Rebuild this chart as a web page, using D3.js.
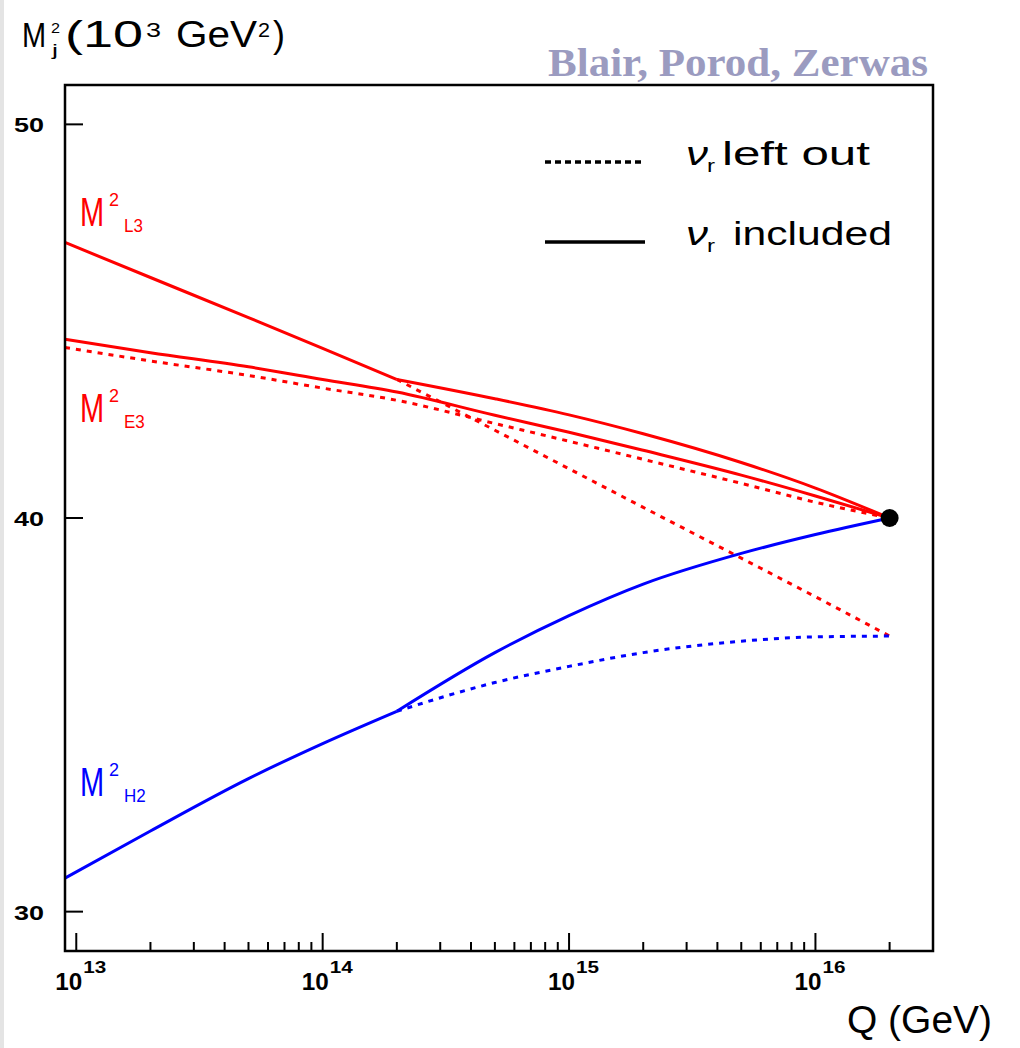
<!DOCTYPE html>
<html>
<head>
<meta charset="utf-8">
<script src="https://cdn.jsdelivr.net/npm/d3@7"></script>
<style>
  html, body { margin: 0; padding: 0; background: #fff; }
  svg { display: block; }
</style>
</head>
<body>
<script>
// ---------------- data ----------------
const Qall  = [9e12, 2e13, 5e13, 1e14, 2e14, 5e14, 1e15, 2e15, 5e15, 1e16, 2e16];
const Qlow  = [9e12, 2e13, 5e13, 1e14, 2e14];
const Qhigh = [2e14, 5e14, 1e15, 2e15, 5e15, 1e16, 2e16];

// M^2_L3 (10^3 GeV^2)
const L3_low      = [47.0, 46.11, 45.09, 44.31, 43.52];
const L3_included = [43.52, 43.03, 42.62, 42.14, 41.41, 40.76, 40.0];
const L3_leftout  = [43.52, 42.23, 41.25, 40.27, 38.98, 38.0, 37.0];
// M^2_E3
const E3_included = [44.54, 44.20, 43.84, 43.52, 43.20, 42.61, 42.18, 41.72, 41.09, 40.56, 40.0];
const E3_leftout  = [44.33, 43.99, 43.62, 43.30, 42.99, 42.40, 41.95, 41.49, 40.88, 40.40, 40.0];
// M^2_H2
const H2_low      = [30.85, 32.05, 33.38, 34.27, 35.09];
const H2_included = [35.09, 36.58, 37.52, 38.32, 39.10, 39.58, 40.0];
const H2_leftout  = [35.09, 35.82, 36.23, 36.58, 36.87, 36.98, 37.0];

const gutPoint = [2e16, 40.0];

const xTickExps = [13, 14, 15, 16];
const yTicks = [30, 40, 50];
const legendLabels = ["left out", "included"];
const curveLabels = [
  { sub: "L3", at: [9e12, 47.42] },
  { sub: "E3", at: [9e12, 42.44] },
  { sub: "H2", at: [9e12, 32.94] }
];

// ---------------- layout ----------------
const W = 1020, H = 1048;
const L = 65, R = 933, T = 85, B = 951;
const RED = "#ff0000", BLUE = "#0000ff";
const SANS = "'Liberation Sans', Arial, Helvetica, sans-serif";

const svg = d3.select("body").append("svg").attr("width", W).attr("height", H);

// faint strip at the left edge
svg.append("rect").attr("x", 0).attr("y", 0).attr("width", 4).attr("height", H).attr("fill", "#e4e4e4");

const x = d3.scaleLog().domain([9e12, 3e16]).range([L, R]);
const y = d3.scaleLinear().domain([29, 51]).range([B, T]);

function txt(px, py, s, size, len, opts = {}) {
  const t = svg.append("text")
    .attr("x", px).attr("y", py)
    .attr("font-family", opts.family || SANS)
    .attr("font-size", size)
    .attr("font-weight", opts.weight || "normal")
    .attr("font-style", opts.style || "normal")
    .attr("fill", opts.fill || "#000")
    .attr("text-anchor", opts.anchor || "start")
    .text(s);
  if (len) t.attr("textLength", len).attr("lengthAdjust", "spacingAndGlyphs");
  return t;
}
// one text element made of positioned pieces: [str, x, y, size, len, style]
function multi(pieces, fill) {
  const t = svg.append("text").attr("font-family", SANS).attr("fill", fill || "#000");
  pieces.forEach(p => {
    const s = t.append("tspan").attr("x", p[1]).attr("y", p[2]).attr("font-size", p[3]).text(p[0]);
    if (p[4]) s.attr("textLength", p[4]).attr("lengthAdjust", "spacingAndGlyphs");
    if (p[5]) s.attr("font-style", p[5]);
  });
  return t;
}
// tall narrow glyph: drawn at a small size, stretched vertically
function tall(px, base, s, size, sy, fill) {
  svg.append("text")
    .attr("transform", `translate(${px},${base}) scale(1,${sy})`)
    .attr("font-family", SANS).attr("font-size", size).attr("fill", fill || "#000")
    .text(s);
}

// ---------------- curves ----------------
const line = d3.line().x(d => x(d[0])).y(d => y(d[1])).curve(d3.curveMonotoneX);
const zip = (qs, vs) => qs.map((q, i) => [q, vs[i]]);

const plot = svg.append("g");
function draw(qs, vs, color, dotted) {
  plot.append("path")
    .attr("d", line(zip(qs, vs)))
    .attr("fill", "none")
    .attr("stroke", color)
    .attr("stroke-width", 3)
    .attr("stroke-dasharray", dotted ? "5,6" : null);
}
// dotted first (underneath)
draw(Qall, E3_leftout, RED, true);
draw(Qhigh, L3_leftout, RED, true);
draw(Qhigh, H2_leftout, BLUE, true);
// solid
draw(Qall, E3_included, RED, false);
draw(Qlow, L3_low, RED, false);
draw(Qhigh, L3_included, RED, false);
draw(Qlow, H2_low, BLUE, false);
draw(Qhigh, H2_included, BLUE, false);

plot.append("circle")
  .attr("cx", x(gutPoint[0])).attr("cy", y(gutPoint[1]))
  .attr("r", 9).attr("fill", "#000");

// ---------------- frame & ticks ----------------
svg.append("rect")
  .attr("x", L).attr("y", T).attr("width", R - L).attr("height", B - T)
  .attr("fill", "none").attr("stroke", "#000").attr("stroke-width", 2.5);

const xt = x.ticks().filter(v => v > x.domain()[0] * 1.0001 && v < x.domain()[1] * 0.9999);
xt.forEach(v => {
  const major = Math.abs(Math.log10(v) - Math.round(Math.log10(v))) < 1e-9;
  svg.append("line")
    .attr("x1", x(v)).attr("x2", x(v))
    .attr("y1", B).attr("y2", B - (major ? 18 : 9))
    .attr("stroke", "#000").attr("stroke-width", 2);
});
yTicks.forEach(v => {
  svg.append("line")
    .attr("x1", L).attr("x2", L + 18)
    .attr("y1", y(v)).attr("y2", y(v))
    .attr("stroke", "#000").attr("stroke-width", 2);
  txt(44, y(v) + 8, String(v), 21, 30, { anchor: "end", weight: "bold" });
});
xTickExps.forEach(e => {
  const px = x(Math.pow(10, e));
  const t = svg.append("text").attr("font-family", SANS).attr("font-weight", "bold").attr("fill", "#000");
  t.append("tspan").attr("x", px - 21).attr("y", 990).attr("font-size", 24)
    .attr("textLength", 27).attr("lengthAdjust", "spacingAndGlyphs").text("10");
  t.append("tspan").attr("x", px + 7).attr("y", 973).attr("font-size", 16)
    .attr("textLength", 23).attr("lengthAdjust", "spacingAndGlyphs").text(String(e));
});

// ---------------- axis titles ----------------
tall(22, 47, "M", 29, 1.22);
multi([
  ["2", 51, 33, 15, 9],
  ["j", 52, 56, 17, 6],
  ["(10", 65, 47, 36, 78],
  ["3", 146, 37, 21, 15],
  ["GeV", 176, 47, 36, 81],
  ["2", 258, 37, 20, 12],
  [")", 273, 47, 36, 12]
]);

txt(847, 1033, "Q (GeV)", 38, 145);

// authors
txt(928, 76, "Blair, Porod, Zerwas", 41, 380,
  { family: "'Liberation Serif', 'Times New Roman', serif", weight: "bold", fill: "#9b9bc0", anchor: "end" });

// ---------------- legend ----------------
const legY = [162, 242];
legendLabels.forEach((lab, i) => {
  svg.append("line")
    .attr("x1", 545).attr("x2", 645)
    .attr("y1", legY[i]).attr("y2", legY[i])
    .attr("stroke", "#000").attr("stroke-width", 3.5)
    .attr("stroke-dasharray", i === 0 ? "6,4" : null);
  multi([
    ["\u03bd", 686, legY[i] + 3, 34, 22, "italic"],
    ["r", 707, legY[i] + 10, 18, 8],
    [lab, i === 0 ? 722 : 733, legY[i] + 3, 34, i === 0 ? 148 : 159]
  ]);
});

// ---------------- curve labels ----------------
curveLabels.forEach((c, i) => {
  const px = x(c.at[0]) + 15, base = y(c.at[1]);
  const col = i < 2 ? RED : BLUE;
  tall(px, base, "M", 29, 1.38, col);
  tall(px + 29, base - 20, "2", 18, 1.0, col);
  tall(px + 44, base + 6, c.sub, 17, 1.1, col);
});
</script>
</body>
</html>
